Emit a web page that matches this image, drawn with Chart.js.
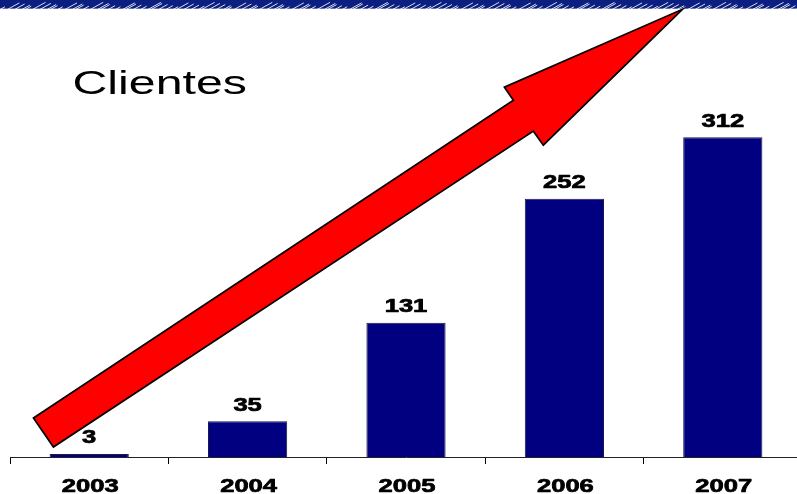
<!DOCTYPE html>
<html>
<head>
<meta charset="utf-8">
<script src="https://cdn.jsdelivr.net/npm/chart.js@4.4.1/dist/chart.umd.min.js"></script>
<style>
  html, body { margin: 0; padding: 0; background: #ffffff; overflow: hidden; width: 797px; height: 494px; }
  canvas { display: block; }
</style>
</head>
<body>
<canvas id="c" width="806" height="494" style="width:806px;height:494px"></canvas>
<script>
// ---- data ----
const categories = ['2003', '2004', '2005', '2006', '2007'];
const clientes = [3, 35, 131, 252, 312];
const chartTitle = 'Clientes';

// arrow annotation in data space: [category index, value]
const arrowX = [-0.352, 2.678, 2.621, 3.745, 2.867, 2.804, -0.226];
const arrowY = [38.0, 348.1, 360.8, 436.8, 304.2, 317.9, 9.75];

const TEXT_STRETCH = 1.42;

function stretchedText(ctx, text, x, y, font, align, heavy) {
  ctx.save();
  ctx.font = font;
  ctx.fillStyle = '#000000';
  ctx.strokeStyle = '#000000';
  ctx.textAlign = align;
  ctx.textBaseline = 'alphabetic';
  ctx.translate(x, y);
  ctx.scale(TEXT_STRETCH, 1);
  ctx.fillText(text, 0, 0);
  if (heavy) {
    ctx.lineWidth = 0.7;
    ctx.lineJoin = 'round';
    ctx.strokeText(text, 0, 0);
  }
  ctx.restore();
}

const decorPlugin = {
  id: 'decor',
  beforeDraw(chart) {
    const ctx = chart.ctx;
    ctx.save();
    ctx.fillStyle = '#ffffff';
    ctx.fillRect(0, 0, chart.width, chart.height);
    // top hatched band
    ctx.fillStyle = '#0b1f80';
    ctx.fillRect(0, 0, chart.width, 9);
    ctx.strokeStyle = 'rgba(255,255,255,0.85)';
    ctx.lineWidth = 1;
    for (let i = 0; i < 130; i++) {
      const x = i * 6.3 + ((i * 5) % 4);
      const len = 5 + ((i * 7) % 9);
      ctx.beginPath();
      ctx.moveTo(x, 9.5);
      ctx.lineTo(x + len, 9.5 - len * 0.55);
      ctx.stroke();
    }
    ctx.fillStyle = 'rgba(255,255,255,0.7)';
    ctx.fillRect(0, 8.5, chart.width, 1.5);
    ctx.restore();
  },
  afterDatasetsDraw(chart) {
    const ctx = chart.ctx;
    const xs = chart.scales.x, ys = chart.scales.y;
    const boldFont = 'bold 18px "Liberation Sans", Arial, sans-serif';
    // data labels
    const meta = chart.getDatasetMeta(0);
    meta.data.forEach((bar, i) => {
      stretchedText(ctx, String(clientes[i]), bar.x, bar.y - 10.5, boldFont, 'center', true);
    });
    // category labels
    categories.forEach((c, i) => {
      stretchedText(ctx, c, xs.getPixelForValue(i) + 1, 491.5, boldFont, 'center', true);
    });
    // title
    stretchedText(ctx, chartTitle, 72.5, 94, '34px "Liberation Sans", Arial, sans-serif', 'left', false);
    // arrow
    ctx.save();
    ctx.beginPath();
    arrowX.forEach((v, i) => {
      const px = xs.getPixelForValue(v);
      const py = ys.getPixelForValue(arrowY[i]);
      if (i === 0) ctx.moveTo(px, py); else ctx.lineTo(px, py);
    });
    ctx.closePath();
    ctx.fillStyle = '#ff0000';
    ctx.fill();
    ctx.lineWidth = 1.7;
    ctx.lineJoin = 'miter';
    ctx.strokeStyle = '#000000';
    ctx.stroke();
    ctx.restore();
  }
};

new Chart(document.getElementById('c'), {
  type: 'bar',
  data: {
    labels: categories,
    datasets: [{
      data: clientes,
      backgroundColor: '#000080',
      borderColor: '#1a1a4a',
      borderWidth: 1,
      borderSkipped: 'bottom',
      categoryPercentage: 1.0,
      barPercentage: 0.5
    }]
  },
  options: {
    responsive: false,
    animation: false,
    devicePixelRatio: 1,
    layout: { padding: { left: 10, right: 4, top: 47, bottom: 0 } },
    plugins: { legend: { display: false }, tooltip: { enabled: false } },
    scales: {
      x: {
        offset: true,
        grid: { display: true, offset: true, drawOnChartArea: false, drawTicks: true, tickLength: 7, color: '#000000', lineWidth: 1 },
        border: { display: true, color: '#222222', width: 1 },
        ticks: { display: false },
        afterFit(scale) { scale.height = 37; }
      },
      y: {
        display: false,
        min: 0,
        max: 400
      }
    }
  },
  plugins: [decorPlugin]
});
</script>
</body>
</html>
